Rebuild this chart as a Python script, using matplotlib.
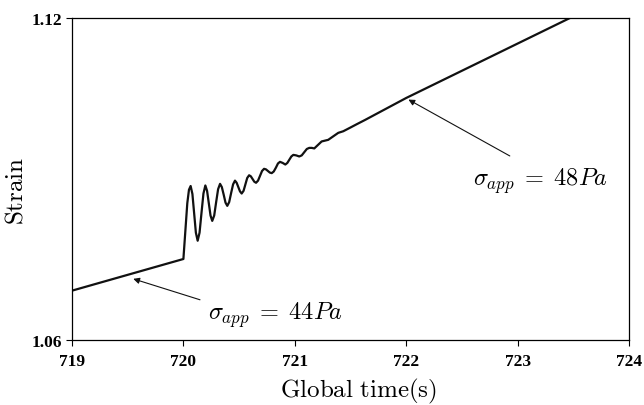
import matplotlib
matplotlib.use("Agg")
import matplotlib.pyplot as plt

plt.rcParams['mathtext.fontset'] = 'cm'
plt.rcParams['font.family'] = ['Liberation Serif', 'DejaVu Serif']

# Global time (s) and strain
time = [719.000, 720.000, 720.035, 720.050, 720.065,
        720.081, 720.0965, 720.112, 720.128,
        720.145, 720.1625, 720.180, 720.197,
        720.2125, 720.228, 720.2435, 720.259,
        720.2765, 720.294, 720.3115, 720.329,
        720.345, 720.3615, 720.378, 720.394,
        720.411, 720.4285, 720.446, 720.463,
        720.478, 720.493, 720.508, 720.523,
        720.540, 720.5565, 720.573, 720.590,
        720.6055, 720.621, 720.6365, 720.652,
        720.670, 720.688, 720.706, 720.724,
        720.741, 720.7585, 720.776, 720.793,
        720.811, 720.830, 720.849, 720.867,
        720.891, 720.915,
        720.933, 720.951, 720.969, 720.987,
        721.013, 721.040,
        721.062, 721.085, 721.108, 721.130,
        721.152, 721.175,
        721.241, 721.300, 721.390, 721.435, 721.500, 721.555, 721.630,
        722.000, 723.470]
strain = [1.0692, 1.0751, 1.0855, 1.0880, 1.0887,
          1.0872, 1.0836, 1.0800, 1.0785,
          1.0800, 1.0837, 1.0873, 1.0888,
          1.0878, 1.0855, 1.0832, 1.0822,
          1.0832, 1.0857, 1.0881, 1.0891,
          1.0885, 1.0871, 1.0856, 1.0850,
          1.0857, 1.0874, 1.0890, 1.0897,
          1.0893, 1.0885, 1.0877, 1.0873,
          1.0878, 1.0890, 1.0902, 1.0907,
          1.0905, 1.0900, 1.0895, 1.0893,
          1.0897, 1.0906, 1.0915, 1.0919,
          1.0918, 1.0915, 1.0912, 1.0911,
          1.0914, 1.0921, 1.0929, 1.0932,
          1.0930, 1.0927,
          1.0930, 1.0936, 1.0942, 1.0945,
          1.0944, 1.0942,
          1.0944, 1.0950, 1.0956, 1.0958,
          1.0958, 1.0957,
          1.0970, 1.0973, 1.0986, 1.0989, 1.0996, 1.1002, 1.1010,
          1.1051, 1.1200]

x_ticks = [719, 720, 721, 722, 723, 724]
y_ticks = [1.06, 1.12]

label_44 = r'$\sigma_{app}\;=\;44Pa$'
label_48 = r'$\sigma_{app}\;=\;48Pa$'

fig = plt.figure(figsize=(6.44, 4.06), dpi=100)
ax = fig.add_axes([0.1118, 0.160, 0.8649, 0.7932])
ax.plot(time, strain, color='#111111', lw=1.6, solid_joinstyle='round')
ax.set_xlim(719, 724)
ax.set_ylim(1.06, 1.12)
ax.set_xticks(x_ticks)
ax.set_xticklabels([str(v) for v in x_ticks], fontweight='bold')
ax.set_yticks(y_ticks)
ax.set_yticklabels(['%.2f' % v for v in y_ticks], fontweight='bold')
ax.tick_params(direction='out', length=4, width=0.8, labelsize=12.5)
ax.tick_params(axis='x', pad=5)
ax.tick_params(axis='y', pad=3)
for sp in ax.spines.values():
    sp.set_linewidth(0.9)

ax.set_xlabel(r'$\mathrm{Global\ time(s)}$', fontsize=18)
ax.set_ylabel(r'$\mathrm{Strain}$', fontsize=18)
ax.xaxis.set_label_coords(0.515, -0.112)
ax.yaxis.set_label_coords(-0.079, 0.466)

ax.annotate('', xy=(719.55, 1.0714), xytext=(720.149, 1.0675),
            arrowprops=dict(arrowstyle='-|>', color='#111111', lw=0.8,
                            mutation_scale=9, shrinkA=0, shrinkB=0))
ax.text(720.22, 1.0648, label_44, fontsize=17.5, va='center', ha='left')

ax.annotate('', xy=(722.02, 1.1048), xytext=(722.93, 1.0943),
            arrowprops=dict(arrowstyle='-|>', color='#111111', lw=0.8,
                            mutation_scale=9, shrinkA=0, shrinkB=0))
ax.text(722.60, 1.0897, label_48, fontsize=17.5, va='center', ha='left')

fig.savefig('out.png', dpi=100)
